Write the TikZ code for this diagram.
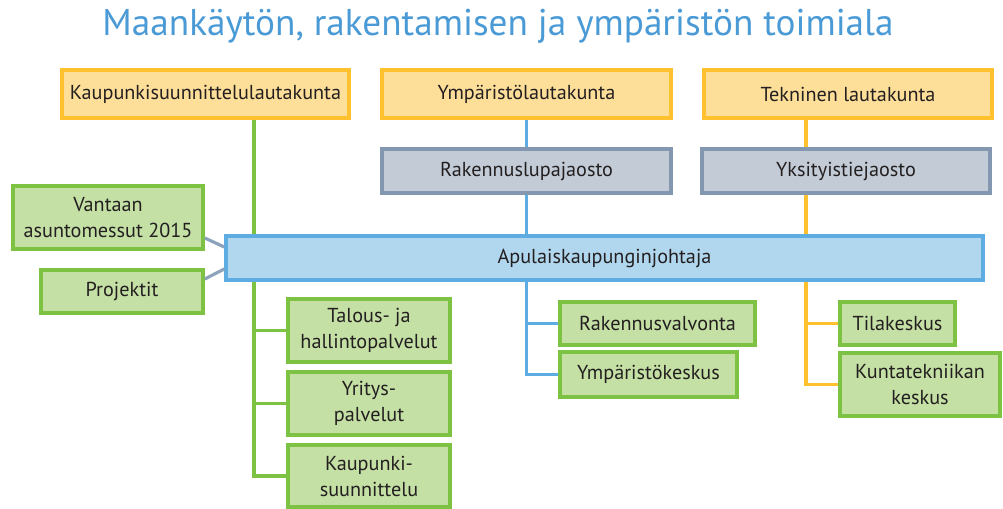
\documentclass[tikz,border=0pt]{standalone}
\usepackage{fontspec}
\setmainfont{PT Sans}
\usetikzlibrary{backgrounds,calc}

\definecolor{titleblue}{HTML}{4A9AD6}
\definecolor{textgrey}{HTML}{231F20}
\definecolor{orfill}{HTML}{FDDF9A}
\definecolor{ordraw}{HTML}{FFC12E}
\definecolor{grfill}{HTML}{C3CCD6}
\definecolor{grdraw}{HTML}{8497B0}
\definecolor{blfill}{HTML}{B1D7EF}
\definecolor{bldraw}{HTML}{5DADE2}
\definecolor{gnfill}{HTML}{C4E0A4}
\definecolor{gndraw}{HTML}{7DC243}
\definecolor{lnkgrey}{HTML}{8DA3BC}

\begin{document}
\begin{tikzpicture}[x=0.02cm,y=-0.02cm,
  box/.style={draw,line width=2.1pt,inner sep=0pt,align=center,text=textgrey,
    font=\fontsize{11.5}{14.8}\selectfont},
  board/.style={box,fill=orfill,draw=ordraw,minimum height=0.96cm},
  section/.style={box,fill=grfill,draw=grdraw,minimum height=0.88cm},
  chief/.style={box,fill=blfill,draw=bldraw,minimum height=0.88cm},
  unit/.style={box,fill=gnfill,draw=gndraw},
  link/.style={line width=1.8pt}]
%\draw[help lines] (0,0) grid[step=50] (1003,509);
\useasboundingbox (0,0) rectangle (1003,509);

% title
\node[text=titleblue,font=\fontsize{21.2}{25}\selectfont] (title) at (498,26)
  {Maankäytön, rakentamisen ja ympäristön toimiala};

% boards (lautakunnat)
\node[board,minimum width=5.74cm] (kslk) at (205.5,94) {Kaupunkisuunnittelulautakunta};
\node[board,minimum width=5.78cm] (ylk) at (526.5,94) {Ympäristölautakunta};
\node[board,minimum width=5.76cm] (tlk) at (848,94) {Tekninen lautakunta};

% sections (jaostot)
\node[section,minimum width=5.78cm] (rlj) at (526.5,171) {Rakennuslupajaosto};
\node[section,minimum width=5.76cm] (ytj) at (846,171) {Yksityistiejaosto};

% deputy mayor
\node[chief,minimum width=15.14cm] (apu) at (604.5,258) {Apulaiskaupunginjohtaja};

% units on the left
\node[unit,minimum width=3.8cm,minimum height=1.26cm] (vam) at (108,217.5) {Vantaan\\asuntomessut 2015};
\node[unit,minimum width=3.24cm,minimum height=0.86cm] (proj) at (122,291.5) {Projektit};

% units under kaupunkisuunnittelu
\node[unit,minimum width=3.24cm,minimum height=1.26cm] (thp) at (369,330.5) {Talous- ja\\hallintopalvelut};
\node[unit,minimum width=3.24cm,minimum height=1.26cm] (yp) at (369,403.5) {Yritys-\\palvelut};
\node[unit,minimum width=3.24cm,minimum height=1.24cm] (ks) at (369,476) {Kaupunki-\\suunnittelu};

% units under ymparisto
\node[unit,minimum width=3.9cm,minimum height=0.86cm] (rv) at (657.5,323.5) {Rakennusvalvonta};
\node[unit,minimum width=3.54cm,minimum height=0.9cm] (yk) at (648.5,374.5) {Ympäristökeskus};

% units under tekninen
\node[unit,minimum width=2.3cm,minimum height=0.86cm] (tk) at (897.5,323.5) {Tilakeskus};
\node[unit,minimum width=3.2cm,minimum height=1.26cm] (kk) at (920,384.5) {Kuntatekniikan\\keskus};

% trunk positions
\coordinate (gtrunk) at (254,0);
\coordinate (otrunk) at (806,0);

\begin{pgfonlayer}{background}
% green lines
\draw[link,gndraw] (gtrunk |- kslk.south) |- (ks.west);
\draw[link,gndraw] (gtrunk |- thp.west) -- (thp.west);
\draw[link,gndraw] (gtrunk |- yp.west) -- (yp.west);
% blue lines
\draw[link,bldraw] (ylk.south) |- (yk.west);
\draw[link,bldraw] (ylk.south |- rv.west) -- (rv.west);
% orange lines
\draw[link,ordraw] (otrunk |- tlk.south) |- (kk.west);
\draw[link,ordraw] (otrunk |- tk.west) -- (tk.west);
\end{pgfonlayer}

% side links
\draw[link,lnkgrey] ([yshift=-0.41cm]vam.east) -- ([yshift=0.22cm]apu.west);
\draw[link,lnkgrey] ([yshift=0.25cm]proj.east) -- ([yshift=-0.22cm]apu.west);
\end{tikzpicture}
\end{document}
